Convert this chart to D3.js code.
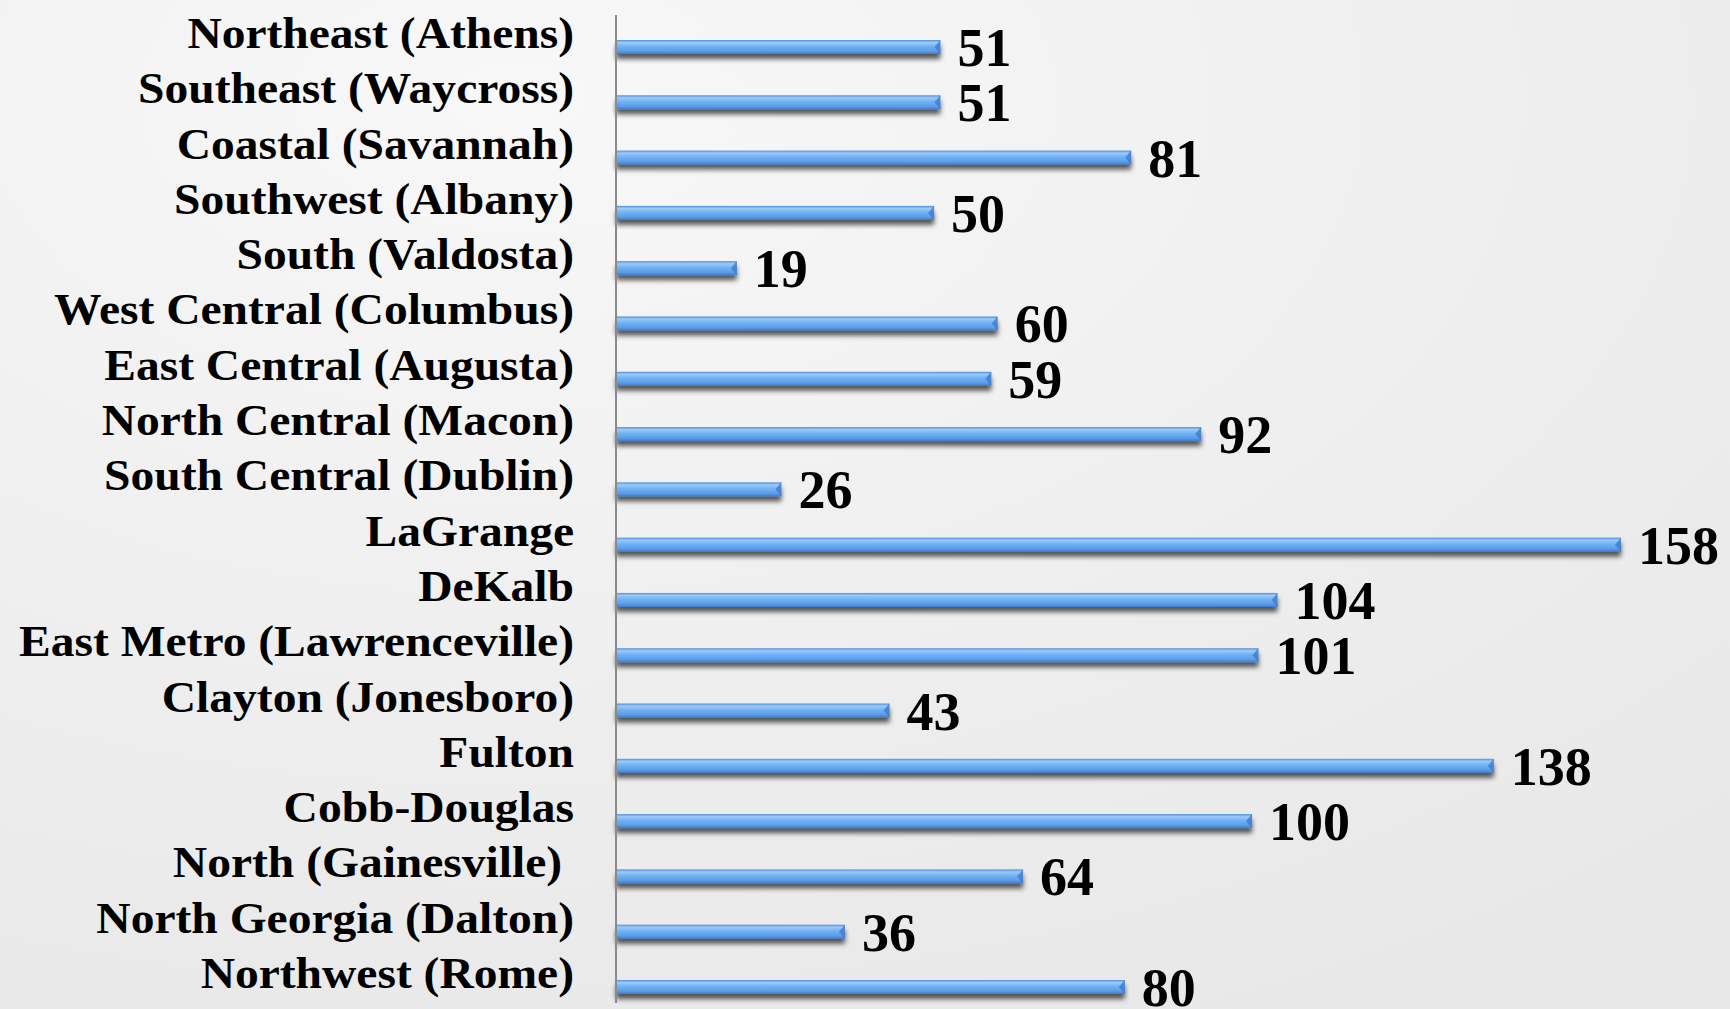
<!DOCTYPE html>
<html lang="en">
<head>
  <meta charset="utf-8">
  <title>Regions</title>
  <script src="https://d3js.org/d3.v7.min.js"></script>
  <style>
    html, body { margin: 0; padding: 0; }
    body { width: 1730px; height: 1009px; overflow: hidden; }
    #chart text {
      font-family: "Liberation Serif", "Times New Roman", serif;
      font-weight: bold;
      fill: #000;
      white-space: pre;
    }
  </style>
</head>
<body>
  <div id="chart"></div>
<script>

  var regions = ["Northeast (Athens)", "Southeast (Waycross)", "Coastal (Savannah)",
    "Southwest (Albany)", "South (Valdosta)", "West Central (Columbus)",
    "East Central (Augusta)", "North Central (Macon)", "South Central (Dublin)",
    "LaGrange", "DeKalb", "East Metro (Lawrenceville)", "Clayton (Jonesboro)",
    "Fulton", "Cobb-Douglas", "North (Gainesville) ", "North Georgia (Dalton)",
    "Northwest (Rome)"];
  var counts = [51, 51, 81, 50, 19, 60, 59, 92, 26, 158, 104, 101, 43, 138, 100, 64, 36, 80];

  var data = regions.map(function (r, i) { return { region: r, count: counts[i] }; });

  var width = 1730, height = 1009;
  var barH = 14;

  var xS = d3.scaleLinear().domain([0, 158]).range([616, 1621]);
  var yS = d3.scalePoint().domain(regions).range([47, 987]);

  var svg = d3.select('#chart').append('svg')
    .attr('width', width)
    .attr('height', height);

  var defs = svg.append('defs');

  var bg = defs.append('radialGradient').attr('id', 'bg')
    .attr('cx', '0.3').attr('cy', '0.1').attr('r', '1');
  bg.append('stop').attr('offset', '0%').attr('stop-color', '#f8f8f8');
  bg.append('stop').attr('offset', '60%').attr('stop-color', '#eeeeee');
  bg.append('stop').attr('offset', '100%').attr('stop-color', '#e8e8e8');

  var bar = defs.append('linearGradient').attr('id', 'bar')
    .attr('x1', 0).attr('y1', 0).attr('x2', 0).attr('y2', 1);
  bar.append('stop').attr('offset', '0%').attr('stop-color', '#4f8fdc');
  bar.append('stop').attr('offset', '18%').attr('stop-color', '#9ccaf8');
  bar.append('stop').attr('offset', '45%').attr('stop-color', '#72b2f4');
  bar.append('stop').attr('offset', '80%').attr('stop-color', '#5a9ce8');
  bar.append('stop').attr('offset', '100%').attr('stop-color', '#3f7bcb');

  var shadow = defs.append('filter').attr('id', 'shadow')
    .attr('x', '-5%').attr('y', '-50%').attr('width', '110%').attr('height', '250%');
  shadow.append('feDropShadow')
    .attr('dx', 0).attr('dy', 5).attr('stdDeviation', 2.5)
    .attr('flood-color', '#000').attr('flood-opacity', 0.65);

  svg.append('rect')
    .attr('width', width).attr('height', height)
    .attr('fill', 'url(#bg)');

  // bars
  svg.selectAll('rect.bar')
    .data(data)
    .enter()
    .append('rect')
    .attr('class', 'bar')
    .attr('x', xS(0))
    .attr('y', d => yS(d.region) - barH / 2)
    .attr('width', d => xS(d.count) - xS(0))
    .attr('height', barH)
    .attr('fill', 'url(#bar)')
    .attr('filter', 'url(#shadow)');

  // bevel notch at bar ends
  svg.selectAll('path.notch')
    .data(data)
    .enter()
    .append('path')
    .attr('class', 'notch')
    .attr('d', function (d) {
      var x = xS(d.count), y = yS(d.region);
      return 'M' + x + ',' + (y - barH / 2) + 'L' + (x - 6) + ',' + y + 'L' + x + ',' + (y + barH / 2) + 'Z';
    })
    .attr('fill', '#3f7bcb')
    .attr('opacity', 0.8);

  // vertical axis line
  svg.append('line')
    .attr('x1', xS(0)).attr('x2', xS(0))
    .attr('y1', 15).attr('y2', 1003)
    .attr('stroke', '#8a8a8a')
    .attr('stroke-width', 2);

  // category labels
  svg.selectAll('text.cat')
    .data(data)
    .enter()
    .append('text')
    .attr('class', 'cat')
    .attr('text-anchor', 'end')
    .attr('font-size', 44)
    .attr('transform', d => 'translate(574,' + (yS(d.region) + 1) + ') scale(1.08,1)')
    .text(d => d.region);

  // value labels
  svg.selectAll('text.val')
    .data(data)
    .enter()
    .append('text')
    .attr('class', 'val')
    .attr('font-size', 54)
    .attr('x', d => xS(d.count) + 17)
    .attr('y', d => yS(d.region) + 19)
    .text(d => d.count);

</script>
</body>
</html>
